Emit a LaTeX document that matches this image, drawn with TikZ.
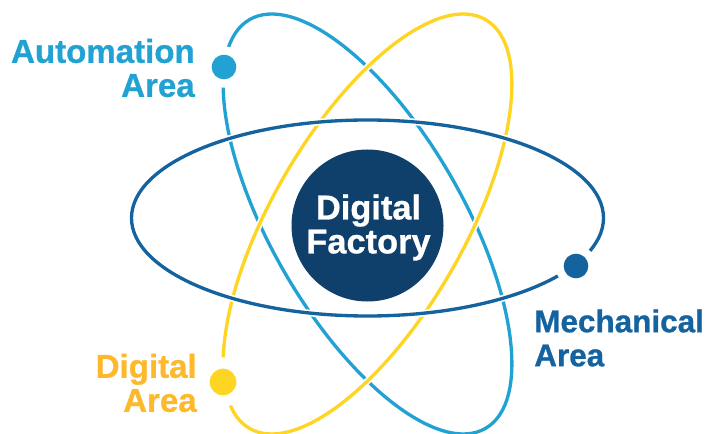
\documentclass[tikz,border=0pt]{standalone}
\usepackage{fontspec}
\newfontfamily\heavy[BoldFeatures={FakeBold=0.8}]{Liberation Sans}
\definecolor{cy}{HTML}{22A2D3}
\definecolor{ye}{HTML}{FFD524}
\definecolor{ora}{HTML}{FDB92B}
\definecolor{bl}{HTML}{14639F}
\definecolor{nav}{HTML}{0F3F6B}
\tikzset{x=0.75pt,y=-0.75pt,
 orbit/.style={line width=2.5pt,draw=#1},
 gapline/.style={line width=5pt,draw=white},
 lab/.style={text=#1,inner sep=0pt},
 dot/.style={circle,fill=#1,inner sep=0pt,minimum size=18.5pt},
 halo/.style={circle,fill=white,inner sep=0pt}}
\newcommand{\Orb}[2]{\draw[#2,rotate around={#1:(367.5,224)}] (367.5,224) ellipse [x radius=236,y radius=96];}
\begin{document}
\begin{tikzpicture}
\useasboundingbox (0,0) rectangle (705,434);
\begin{scope}
\clip (0,0) rectangle (705,434);
\Orb{-60}{orbit=cy}
\Orb{60}{gapline}
\Orb{60}{orbit=ye}
\end{scope}
\draw[gapline] (367.5,218) ellipse [x radius=236,y radius=98];
\draw[orbit=bl] (367.5,218) ellipse [x radius=236,y radius=98];
\node[circle,fill=nav,inner sep=0pt,minimum size=114pt] (core) at (367.5,225.5) {};
\node[font=\fontsize{25.8}{25.5}\heavy\bfseries,text=white,align=center,inner sep=0pt] (coret) at (368.5,227.5) {Digital\\Factory};
\node[halo,minimum size=31pt] (wa) at (224,67) {};
\node[dot=cy] (a) at (224,67) {};
\node[halo,minimum size=37pt] (wd) at (223,382) {};
\node[dot=ye,minimum size=20pt] (d) at (223,382) {};
\node[halo,minimum size=31pt] (wm) at (576,266) {};
\node[dot=bl] (m) at (576,266) {};
\node[lab=cy,font=\fontsize{24.8}{25.5}\heavy\bfseries,align=right,anchor=east] (la) at (195,68) {Automation\\Area};
\node[lab=ora,font=\fontsize{24.8}{25.5}\heavy\bfseries,align=right,anchor=east] (ld) at (197,383) {Digital\\Area};
\node[lab=bl,font=\fontsize{23.6}{25.5}\heavy\bfseries,align=left,anchor=west] (lm) at (534,338) {Mechanical\\Area};
\end{tikzpicture}
\end{document}
